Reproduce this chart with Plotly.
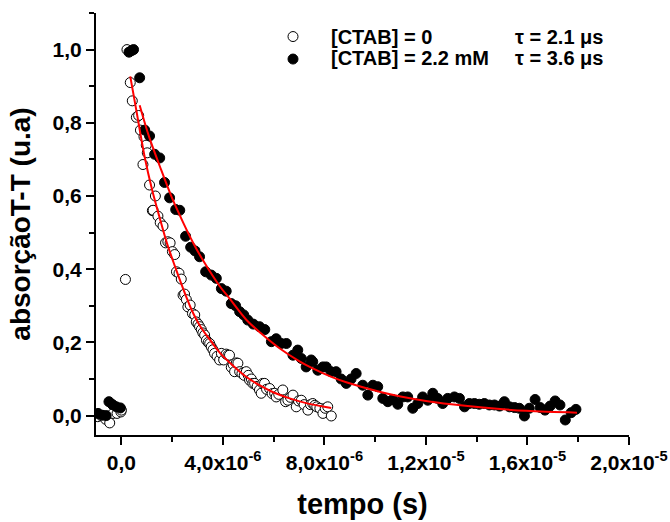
import numpy as np
import plotly.graph_objects as go

# ---- data (time in microseconds) ----
t_open_us = [-0.93, -0.8, -0.62, -0.46, -0.33, -0.17, -0.02, 0.0, 0.16, 0.22,
             0.35, 0.43, 0.59, 0.68, 0.75, 0.85, 0.89, 0.98, 1.02, 1.11,
             1.22, 1.25, 1.34, 1.44, 1.53, 1.64, 1.74, 1.83, 1.92, 2.01,
             2.1, 2.17, 2.27, 2.36, 2.43, 2.49, 2.56, 2.62, 2.71, 2.8,
             2.89, 2.95, 3.02, 3.08, 3.15, 3.21, 3.28, 3.35, 3.42, 3.48,
             3.54, 3.61, 3.67, 3.77, 3.87, 3.94, 4.03, 4.13, 4.2, 4.26,
             4.33, 4.4, 4.46, 4.53, 4.59, 4.66, 4.75, 4.84, 4.92, 5.0,
             5.05, 5.12, 5.18, 5.25, 5.35, 5.44, 5.51, 5.57, 5.64, 5.72,
             5.84, 5.94, 6.04, 6.1, 6.2, 6.36, 6.47, 6.56, 6.66, 6.76,
             6.89, 6.98, 7.09, 7.2, 7.35, 7.45, 7.54, 7.62, 7.7, 7.82,
             7.94, 8.03, 8.13, 8.27]
y_open = [-0.003, 0.0, -0.01, -0.02, 0.006, 0.006, 0.01, 0.015, 0.372, 1.0,
          0.91, 0.86, 0.815, 0.82, 0.78, 0.686, 0.762, 0.739, 0.718, 0.63,
          0.56, 0.561, 0.6, 0.545, 0.527, 0.518, 0.472, 0.475, 0.472, 0.448,
          0.44, 0.393, 0.389, 0.373, 0.329, 0.332, 0.317, 0.297, 0.302, 0.279,
          0.275, 0.256, 0.25, 0.243, 0.235, 0.226, 0.22, 0.206, 0.2, 0.197,
          0.188, 0.18, 0.17, 0.162, 0.152, 0.17, 0.152, 0.168, 0.165, 0.165,
          0.132, 0.14, 0.12, 0.144, 0.143, 0.12, 0.115, 0.11, 0.12, 0.11,
          0.097, 0.1, 0.088, 0.088, 0.08, 0.07, 0.061, 0.088, 0.088, 0.072,
          0.074, 0.06, 0.061, 0.051, 0.058, 0.07, 0.038, 0.042, 0.05, 0.056,
          0.024, 0.04, 0.042, 0.03, 0.015, 0.03, 0.033, 0.028, 0.024, 0.02,
          0.006, 0.02, 0.024, -0.001]

t_filled_us = [-0.92, -0.75, -0.6, -0.49, -0.35, -0.2, -0.04, 0.3, 0.4, 0.48,
               0.72, 0.92, 1.11, 1.31, 1.51, 1.7, 1.9, 2.14, 2.3, 2.53,
               2.73, 2.9, 3.08, 3.32, 3.54, 3.74, 3.94, 4.13, 4.33, 4.5,
               4.66, 4.82, 4.98, 5.2, 5.44, 5.65, 5.91, 6.1, 6.3, 6.5,
               6.76, 6.95, 7.09, 7.28, 7.48, 7.54, 7.74, 7.94, 8.07, 8.26,
               8.46, 8.66, 8.86, 9.05, 9.25, 9.51, 9.71, 9.91, 10.1, 10.3,
               10.5, 10.69, 10.89, 11.09, 11.28, 11.48, 11.68, 11.87, 12.07, 12.27,
               12.46, 12.66, 12.86, 13.12, 13.32, 13.52, 13.71, 13.91, 14.1, 14.3,
               14.5, 14.7, 14.9, 15.09, 15.29, 15.49, 15.68, 15.88, 16.07, 16.3,
               16.5, 16.69, 16.89, 17.09, 17.28, 17.49, 17.72, 17.91]
y_filled = [0.006, 0.001, 0.0, 0.038, 0.03, 0.024, 0.021, 0.993, 0.997, 1.0,
            0.923, 0.78, 0.764, 0.714, 0.704, 0.637, 0.595, 0.563, 0.561, 0.49,
            0.46, 0.45, 0.434, 0.393, 0.384, 0.375, 0.347, 0.34, 0.306, 0.3,
            0.284, 0.275, 0.261, 0.25, 0.243, 0.235, 0.202, 0.21, 0.197, 0.197,
            0.165, 0.179, 0.156, 0.133, 0.152, 0.147, 0.124, 0.133, 0.133, 0.12,
            0.12, 0.1, 0.088, 0.1, 0.115, 0.083, 0.056, 0.083, 0.079, 0.047,
            0.038, 0.044, 0.031, 0.051, 0.051, 0.02, 0.033, 0.051, 0.042, 0.061,
            0.047, 0.033, 0.047, 0.051, 0.047, 0.024, 0.033, 0.033, 0.031, 0.033,
            0.029, 0.029, 0.026, 0.038, 0.024, 0.022, 0.02, -0.001, 0.02, 0.044,
            0.022, 0.015, 0.026, 0.04, 0.029, -0.012, 0.008, 0.017]

# fitted curves
t_fit_open_us = [0.35, 0.6, 0.92, 1.2, 1.51, 1.8, 2.1, 2.56, 2.76, 3.1,
                 3.48, 3.9, 4.39, 4.9, 5.44, 6.0, 6.63, 7.4, 8.27]
y_fit_open = [0.927, 0.83, 0.706, 0.62, 0.54, 0.47, 0.41, 0.324, 0.29, 0.245,
              0.208, 0.17, 0.137, 0.107, 0.083, 0.063, 0.047, 0.032, 0.021]
t_fit_filled_us = [0.72, 1.1, 1.51, 2.0, 2.43, 2.82, 3.21, 3.87, 4.26, 4.92,
                   5.5, 6.23, 7.0, 7.54, 8.3, 8.86, 10.17, 11.0, 12.0, 13.0,
                   14.24, 15.94, 17.95]
y_fit_filled = [0.848, 0.76, 0.682, 0.594, 0.528, 0.473, 0.425, 0.354, 0.32, 0.262,
                0.225, 0.184, 0.149, 0.129, 0.105, 0.091, 0.065, 0.052, 0.04, 0.031,
                0.022, 0.013, 0.008]

series_names = ["[CTAB] = 0", "[CTAB] = 2.2 mM"]
tau_labels = ["\u03c4 = 2.1 \u03bcs", "\u03c4 = 3.6 \u03bcs"]

x_tickvals = [0, 4e-6, 8e-6, 1.2e-5, 1.6e-5, 2.0e-5]
x_ticktext = ["0,0", "4,0x10<sup>-6</sup>", "8,0x10<sup>-6</sup>",
              "1,2x10<sup>-5</sup>", "1,6x10<sup>-5</sup>", "2,0x10<sup>-5</sup>"]
y_tickvals = [0.0, 0.2, 0.4, 0.6, 0.8, 1.0]
y_ticktext = ["0,0", "0,2", "0,4", "0,6", "0,8", "1,0"]

US = 1e-6
FONT = "Liberation Sans, Arial, Helvetica, sans-serif"
PL, PR, PT, PB = 96, 629, 12.7, 435  # plot area in pixels (layout only)


def px_x(p):
    return (p - PL) / (PR - PL)


def px_y(p):
    return (PB - p) / (PB - PT)


fig = go.Figure()
fig.add_trace(go.Scatter(
    x=np.asarray(t_open_us) * US, y=y_open, mode="markers", name="",
    hovertext=series_names[0],
    marker=dict(symbol="circle", size=10, color="white",
                line=dict(color="black", width=1))))
fig.add_trace(go.Scatter(
    x=np.asarray(t_filled_us) * US, y=y_filled, mode="markers", name="",
    hovertext=series_names[1],
    marker=dict(symbol="circle", size=10, color="black",
                line=dict(color="black", width=1))))
fig.add_trace(go.Scatter(
    x=np.asarray(t_fit_open_us) * US, y=y_fit_open, mode="lines", showlegend=False,
    line=dict(color="#ff0000", width=2, shape="spline")))
fig.add_trace(go.Scatter(
    x=np.asarray(t_fit_filled_us) * US, y=y_fit_filled, mode="lines", showlegend=False,
    line=dict(color="#ff0000", width=2, shape="spline")))

row_y = [37, 58]
for i in range(2):
    fig.add_annotation(x=px_x(329), y=px_y(row_y[i]), xref="paper", yref="paper",
                       text="<b>%s</b>" % series_names[i], showarrow=False, xanchor="left",
                       yanchor="middle", font=dict(size=20, color="black", family=FONT))
    fig.add_annotation(x=px_x(513), y=px_y(row_y[i]), xref="paper", yref="paper",
                       text="<b>%s</b>" % tau_labels[i], showarrow=False, xanchor="left",
                       yanchor="middle", font=dict(size=20, color="black", family=FONT))

axis_common = dict(showline=True, linecolor="black", linewidth=2, ticks="outside",
                   ticklen=8, tickwidth=2, tickcolor="black", showgrid=False,
                   zeroline=False, mirror=False,
                   tickfont=dict(size=21, color="black", family=FONT))

fig.update_xaxes(range=[-1e-6, 2e-5], tickmode="array", tickvals=x_tickvals,
                 ticktext=["<b>%s</b>" % t for t in x_ticktext],
                 minor=dict(ticks="outside", ticklen=5, tickwidth=2, tickcolor="black",
                            tickmode="linear", tick0=0, dtick=2e-6),
                 title=dict(text="<b>tempo (s)</b>", font=dict(size=29, color="black", family=FONT),
                            standoff=20),
                 **axis_common)
fig.update_yaxes(range=[-0.053, 1.1], tickmode="array", tickvals=y_tickvals,
                 ticktext=["<b>%s</b>" % t for t in y_ticktext],
                 minor=dict(ticks="outside", ticklen=5, tickwidth=2, tickcolor="black",
                            tickmode="linear", tick0=0, dtick=0.1),
                 title=dict(text="<b>absor\u00e7\u00e3oT-T (u.a)</b>",
                            font=dict(size=28, color="black", family=FONT), standoff=14),
                 **axis_common)

fig.update_layout(
    width=670, height=522,
    margin=dict(l=PL, r=670 - PR, t=PT, b=522 - PB, autoexpand=False),
    paper_bgcolor="white", plot_bgcolor="white",
    font=dict(family=FONT, color="black"),
    showlegend=True,
    legend=dict(x=px_x(273), y=px_y(20), xanchor="left", yanchor="top",
                bgcolor="rgba(0,0,0,0)", borderwidth=0,
                font=dict(size=15, color="black", family=FONT),
                itemwidth=30, tracegroupgap=0),
)

fig.write_html("out.html")
